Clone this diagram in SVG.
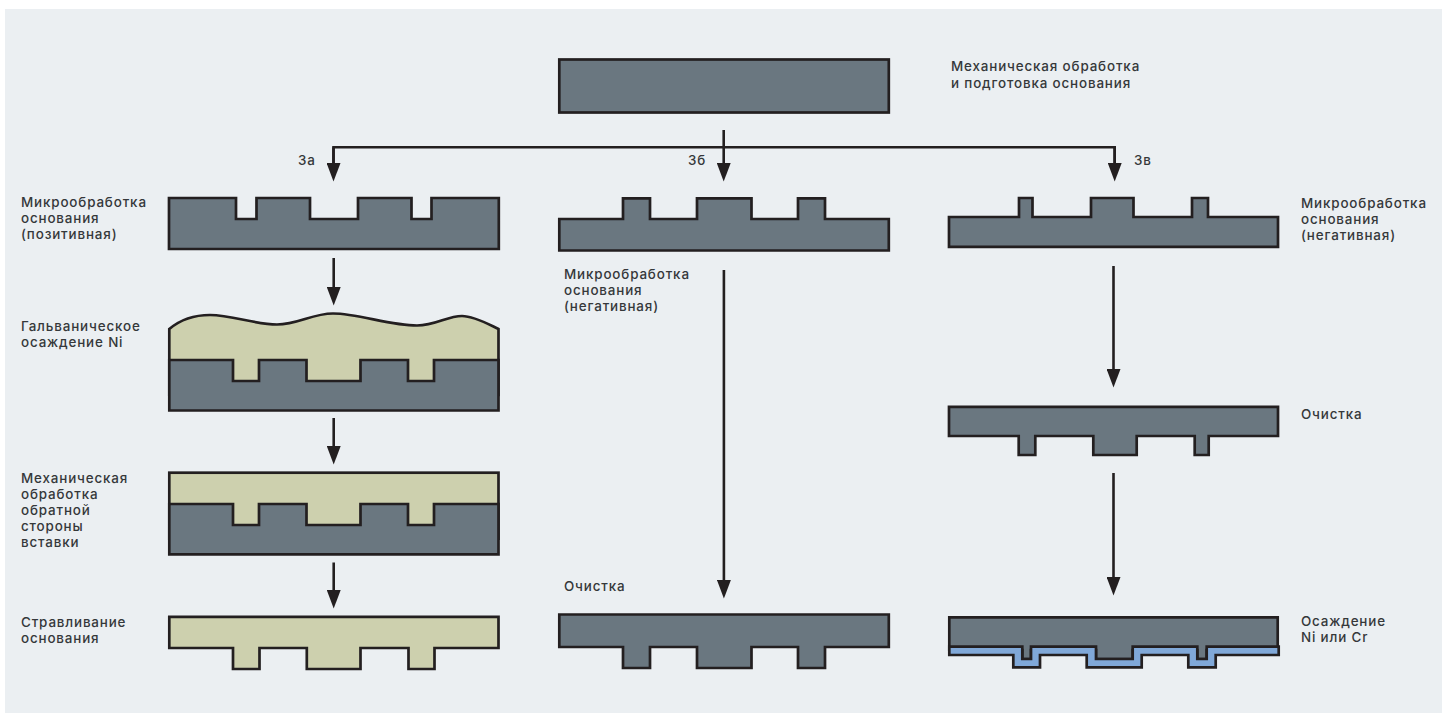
<svg xmlns="http://www.w3.org/2000/svg" width="1450" height="713" viewBox="0 0 1450 713">
<style>
.g{fill:#6a7780;stroke:#231f20;stroke-width:2.7;stroke-linejoin:miter}
.o{fill:#cdd0ae;stroke:#231f20;stroke-width:2.7;stroke-linejoin:miter}
.b{fill:#80a8d8;stroke:#231f20;stroke-width:2.7;stroke-linejoin:miter}
.c{fill:none;stroke:#231f20;stroke-width:2.6}
text{font-family:"Inter","Liberation Sans",sans-serif;font-size:13.4px;font-weight:500;fill:#35383a;letter-spacing:.85px}
</style>
<defs>
<marker id="ah" markerUnits="userSpaceOnUse" markerWidth="19" markerHeight="14" refX="0" refY="7" orient="auto" viewBox="0 0 19 14"><path d="M0 0L18.500 7L0 14Z" fill="#231f20"/></marker>
</defs>
<rect x="5" y="9" width="1437" height="704" fill="#ebeff2"/>
<g id="connectors">
<path class="c" d="M333.500 163V147.300H1114.700V163"/>
<path class="c" d="M333.500 147.300V163" marker-end="url(#ah)"/>
<path class="c" d="M1114.700 147.300V163" marker-end="url(#ah)"/>
<path class="c" d="M723.700 130V163" marker-end="url(#ah)"/>
<path class="c" d="M333.700 258V287" marker-end="url(#ah)"/>
<path class="c" d="M333.700 418V446" marker-end="url(#ah)"/>
<path class="c" d="M333.700 562.500V590" marker-end="url(#ah)"/>
<path class="c" d="M723.900 270V580" marker-end="url(#ah)"/>
<path class="c" d="M1113.500 266V369" marker-end="url(#ah)"/>
<path class="c" d="M1113.500 473V577" marker-end="url(#ah)"/>
</g>
<g id="top"><rect class="g" x="559.300" y="59.500" width="329.500" height="53"/>
<text x="951" y="71">Механическая обработка</text><text x="951" y="87.500">и подготовка основания</text></g>
<g id="a1"><path class="g" d="M169 198H236V219H256.500V198H310V219H358V198H411.500V219H431.500V198H498.800V249H169Z"/>
<text x="21" y="207.300">Микрообработка</text><text x="21" y="223">основания</text><text x="21" y="239">(позитивная)</text></g>
<g id="a2"><path class="o" d="M169.300 329C180 320 192 315 210 315C232 315 255 324.500 277 324.500C298 324.500 312 313.500 333 313.500C358 313.500 390 325.500 417 325.500C436 325.500 447 316 462 316C474 316 488 324 498.500 329V395H169.300Z"/>
<path class="g" d="M169.300 360H233V381H259V360H306.500V381H360.500V360H408V381H434V360H498.500V410.500H169.300Z"/>
<text x="21" y="331">Гальваническое</text><text x="21" y="347">осаждение Ni</text></g>
<g id="a3"><rect class="o" x="169.300" y="472.700" width="329.200" height="66"/>
<path class="g" d="M169.300 504H233V525H259V504H306.500V525H360.500V504H408V525H434V504H498.500V554.300H169.300Z"/>
<text x="21" y="483">Механическая</text><text x="21" y="499">обработка</text><text x="21" y="515">обратной</text><text x="21" y="531">стороны</text><text x="21" y="547">вставки</text></g>
<g id="a4"><path class="o" d="M169.300 616.800H498.500V648H434.500V669H408.500V648H360.500V669H306.800V648H259.500V669H233V648H169.300Z"/>
<text x="21" y="627">Стравливание</text><text x="21" y="643">основания</text></g>
<g id="b1"><path class="g" d="M559.300 219H623V198.300H650V219H697V198.300H751.500V219H798V198.300H825V219H888.800V250.500H559.300Z"/>
<text x="564" y="279">Микрообработка</text><text x="564" y="295">основания</text><text x="564" y="311">(негативная)</text></g>
<g id="b2"><path class="g" d="M559.300 614.500H888.800V647H825V668H798V647H751.500V668H697V647H650V668H623V647H559.300Z"/>
<text x="564" y="591">Очистка</text></g>
<g id="c1"><path class="g" d="M949 217H1019V198H1032.500V217H1091V198H1133.500V217H1192V198H1208V217H1278V246.800H949Z"/>
<text x="1301" y="208">Микрообработка</text><text x="1301" y="224">основания</text><text x="1301" y="240">(негативная)</text></g>
<g id="c2"><path class="g" d="M949 406.800H1278V436H1208.700V455H1194.700V436H1136.700V455H1093.300V436H1035.300V455H1018.700V436H949Z"/>
<text x="1301" y="419">Очистка</text></g>
<g id="c3"><path class="g" d="M949.300 617.300H1277.700V650H1206.700V659H1197.300V650H1132.700V659H1096V650H1031V659H1022.300V650H949.300Z"/>
<path class="b" d="M949.300 646.700H1022.300V659H1031V646.700H1096V659H1132.700V646.700H1197.300V659H1206.700V646.700H1278.700V655H1215.700V667.300H1188.300V655H1141.700V667.300H1086.700V655H1040V667.300H1013.300V655H949.300Z"/>
<text x="1301" y="626">Осаждение</text><text x="1301" y="642">Ni или Cr</text></g>
<g id="labels"><text x="298" y="165">3а</text><text x="688" y="165">3б</text><text x="1134" y="165">3в</text></g>
</svg>
